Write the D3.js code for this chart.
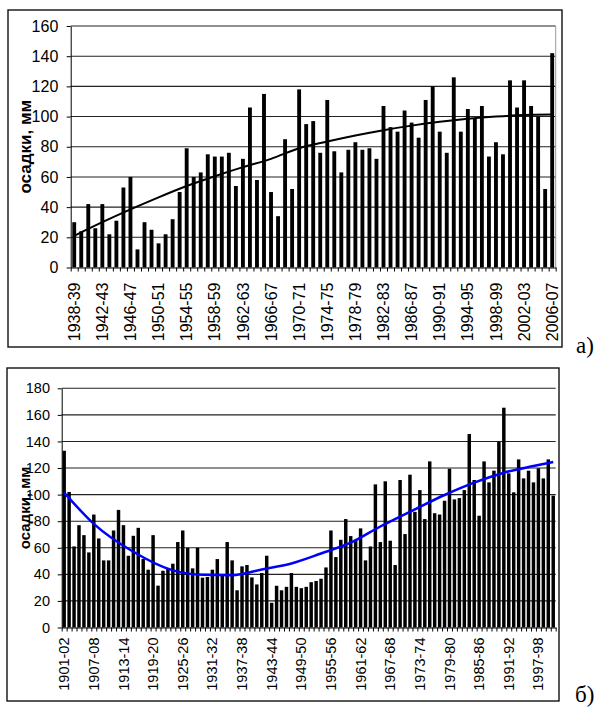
<!DOCTYPE html>
<html>
<head>
<meta charset="utf-8">
<script src="https://cdn.jsdelivr.net/npm/d3@7"></script>
<style>
body { margin: 0; background: #fff; }
svg text { font-family: "Liberation Sans", Arial, sans-serif; fill: #000; }
</style>
</head>
<body>
<div id="chart"></div>
<script>
// --- chart а): 1938-39 ... 2006-07
const seasonsA = makeSeasons(1938, 69);
const valuesA = [30, 24, 42, 26, 42, 22, 31, 53, 60, 12,
	30, 25, 16, 22, 32, 50, 79, 60, 63, 75,
	73.5, 73.5, 76, 54, 72, 106, 58, 115, 50, 34,
	85, 52, 118, 95, 97, 76, 111, 77, 63, 78,
	83, 78, 79, 72, 107, 93, 90, 104, 96, 86,
	111, 120, 90, 76, 126, 90, 105, 99, 107, 73.5,
	83, 75, 124, 106, 124, 107, 100, 52, 142];
const labelsA = ["1938-39", "1942-43", "1946-47", "1950-51", "1954-55", "1958-59",
	"1962-63", "1966-67", "1970-71", "1974-75", "1978-79", "1982-83", "1986-87",
	"1990-91", "1994-95", "1998-99", "2002-03", "2006-07"];
// trend read at the labelled seasons
const trendA = [21, 30, 38.5, 46.5, 54, 60.5, 66.5, 72, 79, 83.5, 87.5, 91, 94,
	96.5, 98.5, 100, 101, 101.3];
const yTicksA = [0, 20, 40, 60, 80, 100, 120, 140, 160];

// --- chart б): 1901-02 ... 2000-01
const seasonsB = makeSeasons(1901, 100);
const valuesB = [133, 102, 61, 77, 69.5, 56.5, 85, 67, 50.5, 50.5,
	73, 88.5, 77, 54, 69, 75, 51.5, 43.5, 69.5, 31.5,
	42.7, 44.7, 48, 64.3, 73, 60, 44.5, 60, 37.5, 38,
	43.5, 51.5, 39.4, 64.3, 50.5, 28, 46, 47, 37.7, 32.4,
	41, 54, 18.6, 31.4, 28, 30.6, 41, 30.6, 29.6, 30.6,
	34.1, 35, 36.7, 45.2, 73, 53, 66, 81.6, 68.8, 66,
	74.6, 50.5, 61, 107.7, 64.3, 110, 65.3, 47, 111, 70.3,
	115, 87, 103.4, 81.6, 125, 86, 85, 95.4, 119.5, 96.4,
	97.4, 103.4, 145.6, 111, 84.1, 125, 109.2, 118, 139.8, 165.4,
	116, 101.7, 126.5, 112.2, 118, 109.2, 119.8, 112.2, 126.5, 99.2];
const labelsB = ["1901-02", "1907-08", "1913-14", "1919-20", "1925-26", "1931-32",
	"1937-38", "1943-44", "1949-50", "1955-56", "1961-62", "1967-68", "1973-74",
	"1979-80", "1985-86", "1991-92", "1997-98"];
const trendSeasonsB = ["1901-02", "1907-08", "1915-16", "1923-24", "1929-30", "1935-36",
	"1941-42", "1947-48", "1953-54", "1959-60", "1965-66", "1972-73", "1978-79",
	"1984-85", "1990-91", "1996-97", "2000-01"];
const trendB = [101.5, 78, 57, 43, 39.7, 39.4, 43.7, 48.2, 55.7, 63.8, 76, 88.9,
	99.7, 109, 116.5, 121.5, 124.5];
const yTicksB = [0, 20, 40, 60, 80, 100, 120, 140, 160, 180];

function makeSeasons(start, n) {
	return d3.range(n).map(i => {
		const y = start + i;
		return y + "-" + String((y + 1) % 100).padStart(2, "0");
	});
}

const svg = d3.select("#chart")
	.append("svg")
	.attr("width", 600)
	.attr("height", 711);

drawPanel({
	seasons: seasonsA, values: valuesA, labels: labelsA,
	trendSeasons: labelsA, trend: trendA, yTicks: yTicksA,
	frame: [8, 10, 554, 337], left: 70.7, right: 555.7, top: 26, bottom: 267.5,
	pad: 0.45, font: 16, titleFont: 17, xGap: 15, yGap: 12.4,
	trendColor: "#000", trendWidth: 2, rightEdge: true,
	letter: "а)", letterPos: [576, 353]
});

drawPanel({
	seasons: seasonsB, values: valuesB, labels: labelsB,
	trendSeasons: trendSeasonsB, trend: trendB, yTicks: yTicksB,
	frame: [7, 368, 552, 333], left: 61.7, right: 555.7, top: 388.3, bottom: 627.5,
	pad: 0.3, font: 14.5, titleFont: 15, xGap: 10, yGap: 11.7,
	trendColor: "#0000ff", trendWidth: 2.5, rightEdge: false,
	letter: "б)", letterPos: [575, 702]
});

function drawPanel(p) {
	const g = svg.append("g");
	const n = p.seasons.length;

	g.append("rect")
		.attr("x", p.frame[0]).attr("y", p.frame[1])
		.attr("width", p.frame[2]).attr("height", p.frame[3])
		.attr("fill", "none").attr("stroke", "#111").attr("stroke-width", 1.4);

	const x = d3.scaleBand()
		.domain(p.seasons)
		.range([p.left, p.right])
		.paddingInner(p.pad)
		.paddingOuter(p.pad / 2);

	const y = d3.scaleLinear()
		.domain([0, d3.max(p.yTicks)])
		.range([p.bottom, p.top]);

	// gridlines
	g.append("g")
		.selectAll("line")
		.data(p.yTicks.filter(t => t > 0))
		.enter()
		.append("line")
		.attr("x1", p.left).attr("x2", p.right)
		.attr("y1", d => y(d)).attr("y2", d => y(d))
		.attr("stroke", "#222").attr("stroke-width", 1.1);

	if (p.rightEdge) {
		g.append("line")
			.attr("x1", p.right).attr("x2", p.right)
			.attr("y1", p.top).attr("y2", p.bottom)
			.attr("stroke", "#999");
	}

	g.append("g")
		.selectAll("rect")
		.data(p.values)
		.enter()
		.append("rect")
		.attr("x", (d, i) => x(p.seasons[i]))
		.attr("y", d => y(d))
		.attr("width", x.bandwidth())
		.attr("height", d => p.bottom - y(d))
		.attr("fill", "#000");

	// x axis: ticks between categories
	const xb = d3.scaleLinear().domain([0, n]).range([p.left, p.right]);
	g.append("g")
		.attr("transform", "translate(0," + p.bottom + ")")
		.call(d3.axisBottom(xb).tickValues(d3.range(n + 1)).tickFormat("").tickSize(4).tickSizeOuter(0))
		.call(a => a.selectAll("path,line").attr("stroke", "#000"));

	// x labels
	g.append("g")
		.attr("transform", "translate(0," + p.bottom + ")")
		.call(d3.axisBottom(x).tickValues(p.labels).tickSize(0))
		.call(a => a.select(".domain").remove())
		.selectAll("text")
		.attr("transform", "rotate(-90)")
		.attr("x", -p.xGap)
		.attr("y", 0)
		.attr("dy", "0.35em")
		.style("text-anchor", "end")
		.style("font-size", p.font + "px")
		.style("font-family", "'Liberation Sans', Arial, sans-serif");

	// y axis
	g.append("g")
		.attr("transform", "translate(" + p.left + ",0)")
		.call(d3.axisLeft(y).tickValues(p.yTicks).tickSize(4).tickSizeOuter(0).tickPadding(p.yGap - 4))
		.call(a => a.selectAll("path,line").attr("stroke", "#000"))
		.selectAll("text")
		.style("font-size", p.font + "px")
		.style("font-family", "'Liberation Sans', Arial, sans-serif");

	// trend
	const line = d3.line()
		.x((d, i) => x(p.trendSeasons[i]) + x.bandwidth() / 2)
		.y(d => y(d))
		.curve(d3.curveMonotoneX);

	g.append("path")
		.datum(p.trend)
		.attr("d", line)
		.attr("fill", "none")
		.attr("stroke", p.trendColor)
		.attr("stroke-width", p.trendWidth);

	g.append("text")
		.attr("transform", "translate(25," + ((p.top + p.bottom) / 2) + ") rotate(-90)")
		.attr("text-anchor", "middle")
		.attr("dy", "0.35em")
		.style("font-size", p.titleFont + "px")
		.style("font-weight", "bold")
		.text("осадки, мм");

	g.append("text")
		.attr("x", p.letterPos[0])
		.attr("y", p.letterPos[1])
		.style("font-family", "'Liberation Serif', 'Times New Roman', serif")
		.style("font-size", "23px")
		.text(p.letter);
}
</script>
</body>
</html>
